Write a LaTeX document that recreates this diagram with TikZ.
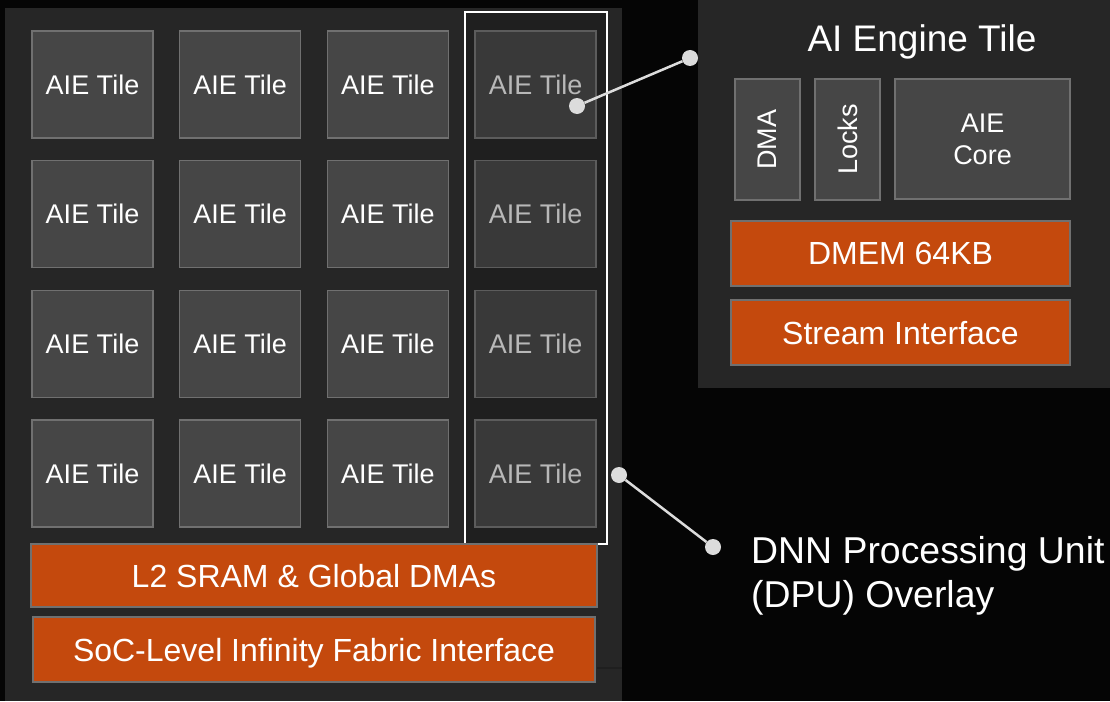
\documentclass[tikz,border=0pt]{standalone}
\usepackage{fontspec}
\setmainfont{Liberation Sans}
\usetikzlibrary{positioning}

\definecolor{bgblack}{HTML}{050505}
\definecolor{panelgray}{HTML}{262626}
\definecolor{framegray}{HTML}{1F1F1F}
\definecolor{tilegray}{HTML}{464646}
\definecolor{tileedge}{HTML}{707070}
\definecolor{dimgray}{HTML}{393939}
\definecolor{dimedge}{HTML}{5C5C5C}
\definecolor{dimtext}{HTML}{B8B8B8}
\definecolor{rust}{HTML}{C4490D}
\definecolor{dotgray}{HTML}{DCDCDC}

\tikzset{
  tile/.style={draw=tileedge, fill=tilegray, line width=1.5pt, text=white,
    minimum width=121pt, minimum height=107pt, inner sep=0pt, outer sep=0pt,
    text depth=0pt, font=\fontsize{27}{32}\selectfont},
  dimtile/.style={tile, draw=dimedge, fill=dimgray, text=dimtext},
  bar/.style={draw=tileedge, fill=rust, line width=1.5pt, text=white,
    inner sep=0pt, outer sep=0pt, text depth=0pt, font=\fontsize{32}{38}\selectfont},
  dot/.style={circle, fill=dotgray, inner sep=0pt, minimum size=16pt},
  link/.style={draw=dotgray, line width=2.5pt},
}

\begin{document}
\begin{tikzpicture}[x=1pt, y=-1pt]

	\fill[bgblack] (0,0) rectangle (1110,701);
	\useasboundingbox (0,0) rectangle (1110,701);

	% left panel: tile array
	\fill[panelgray] (5,8) rectangle (622,701);
	\draw[framegray, line width=1.5pt] (597,668) -- (622,668);
	\node[draw=white, fill=framegray, line width=2pt, minimum width=142pt, minimum height=532pt,
	      inner sep=0pt, outer sep=0pt] (column frame) at (536,278) {};

	\foreach \r in {1,...,4} {
		\foreach \c in {1,2,3}
			\node[tile] (tile \r-\c) at ({92.5+147.7*(\c-1)}, {84.5+129.7*(\r-1)}) {AIE Tile};
		\node[dimtile] (tile \r-4) at ({92.5+147.7*3}, {84.5+129.7*(\r-1)}) {AIE Tile};
	}

	\node[bar, minimum width=566pt, minimum height=63pt] (l2 sram) at (314,575.5) {L2 SRAM \& Global DMAs};
	\node[bar, minimum width=562pt, minimum height=65pt, below=10pt of l2 sram] (fabric) {SoC-Level Infinity Fabric Interface};

	% right panel: one tile
	\fill[panelgray] (698,0) rectangle (1110,388);
	\node[text=white, anchor=base, font=\fontsize{37}{44}\selectfont] (tile title) at (922,52) {AI Engine Tile};

	\node[tile, rotate=90, minimum width=121pt, minimum height=65pt] (dma)   at (767.5,139.5) {DMA};
	\node[tile, rotate=90, minimum width=121pt, minimum height=65pt] (locks) at (847.5,139.5) {Locks};
	\node[tile, minimum width=175pt, minimum height=120pt, align=center] (core) at (982.5,139) {AIE\\Core};

	\node[bar, minimum width=339pt, minimum height=65pt] (dmem) at (900.5,253.5) {DMEM 64KB};
	\node[bar, minimum width=339pt, minimum height=65pt, below=14pt of dmem] (stream) {Stream Interface};

	% call-outs
	\node[dot] (tile pin)  at (577,106) {};
	\node[dot] (panel pin) at (690,58)  {};
	\node[dot] (frame pin) at (619,475) {};
	\node[dot] (label pin) at (713,547) {};

	\node[text=white, anchor=north west, align=left, inner sep=0pt,
	      font=\fontsize{37.4}{44}\selectfont] (dpu label) at (751,536) {DNN Processing Unit\\(DPU) Overlay};

	\draw[link] (tile pin)  -- (panel pin);
	\draw[link] (frame pin) -- (label pin);

\end{tikzpicture}
\end{document}
